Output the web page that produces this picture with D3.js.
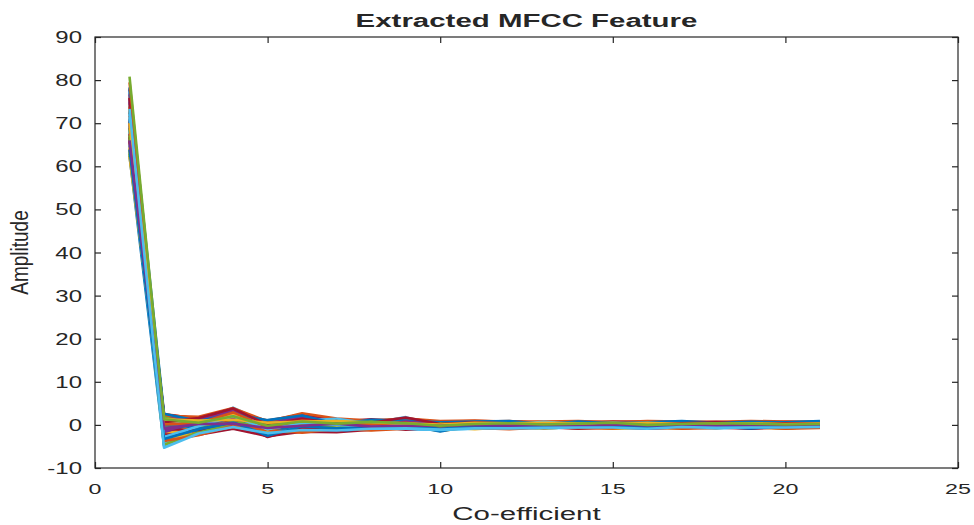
<!DOCTYPE html>
<html>
<head>
<meta charset="utf-8">
<script src="https://cdn.jsdelivr.net/npm/d3@7"></script>
<style>
  html, body { margin: 0; padding: 0; background: #fff; }
  svg { display: block; }
  text { font-family: "Liberation Sans", Arial, Helvetica, sans-serif; fill: #262626; }
</style>
</head>
<body>
<svg id="chart" width="974" height="525"></svg>
<script>
// ---- data ----
const coefficients = [1,2,3,4,5,6,7,8,9,10,11,12,13,14,15,16,17,18,19,20,21];
const xTicks = [0, 5, 10, 15, 20, 25];
const yTicks = [-10, 0, 10, 20, 30, 40, 50, 60, 70, 80, 90];
const titleText = "Extracted MFCC Feature";
const xLabel = "Co-efficient";
const yLabel = "Amplitude";
const colors = ["#0072BD", "#D95319", "#EDB120", "#7E2F8E", "#77AC30", "#4DBEEE", "#A2142F"];

const frames = [
  [62.5, -4.8, -1.5, 0.2, -1.8, -0.6, -1.0, -0.4, -0.9, -1.2, -0.5, -0.3, -0.7, -0.2, -0.6, -0.4, -0.8, -0.3, -0.5, -0.6, -0.2],
  [64.0, 2.2, 1.2, 3.1, 0.6, 1.9, 0.8, 0.5, 1.2, 0.2, 0.6, 0.4, 0.7, 0.3, 0.5, 0.6, 0.2, 0.5, 0.4, 0.3, 0.6],
  [65.5, -2.6, -0.4, 1.5, -0.9, 0.7, -0.3, 0.2, 0.4, -0.6, -0.2, 0.1, -0.4, 0.3, -0.1, 0.2, -0.3, 0.1, -0.2, 0.0, 0.2],
  [66.2, 0.9, 0.3, 2.4, 0.1, 1.4, 0.9, 0.3, 0.7, -0.1, 0.4, 0.2, 0.5, 0.6, 0.1, 0.3, 0.4, 0.2, 0.7, 0.1, 0.3],
  [67.3, -3.9, -1.1, -0.6, -1.5, -0.9, -0.4, -0.8, -0.3, -1.0, -0.6, -0.2, -0.5, -0.7, -0.3, -0.6, -0.2, -0.5, -0.4, -0.8, -0.3],
  [68.1, 1.5, 0.9, 4.0, 0.3, 1.1, 0.5, 0.9, 0.2, -0.3, 0.3, 0.6, 0.1, 0.4, 0.2, 0.5, 0.3, 0.1, 0.4, 0.2, 0.0],
  [69.0, -1.2, 0.2, 1.8, -0.5, 0.9, 0.1, -0.3, 0.5, -0.7, 0.0, 0.3, -0.2, 0.1, 0.4, -0.1, 0.2, -0.3, 0.1, 0.3, -0.2],
  [70.2, 0.4, -0.8, 0.9, -1.2, 0.4, -0.6, 0.1, -0.4, -0.9, -0.3, 0.0, -0.5, -0.1, -0.4, 0.1, -0.2, -0.6, -0.1, -0.3, 0.1],
  [71.1, 2.5, 1.4, 2.9, 1.0, 2.4, 1.2, 0.8, 1.6, 0.5, 0.7, 0.9, 0.4, 0.6, 0.8, 0.5, 0.7, 0.4, 0.6, 0.5, 0.8],
  [72.4, -3.2, -0.9, 0.5, -2.1, -0.2, -0.8, -0.5, -0.2, -1.4, -0.4, -0.6, -0.1, -0.5, -0.3, -0.7, -0.4, -0.2, -0.6, -0.1, -0.4],
  [73.0, 1.1, 0.7, 3.4, 0.5, 1.6, 0.2, 0.6, 0.9, 0.1, 0.5, 0.3, 0.2, 0.5, 0.3, 0.1, 0.5, 0.3, 0.2, 0.6, 0.4],
  [74.1, -0.6, -0.2, 2.2, -0.7, 0.3, 0.6, -0.1, 0.3, -0.4, 0.1, -0.2, 0.3, 0.0, 0.2, -0.3, 0.1, 0.2, -0.1, 0.1, 0.3],
  [75.2, -2.0, -1.8, 0.8, -1.0, -0.4, -0.2, -0.9, 0.1, -0.8, -0.7, -0.4, -0.3, -0.6, -0.5, -0.2, -0.6, -0.4, -0.3, -0.5, -0.2],
  [76.0, 1.9, 0.1, 2.6, 0.8, 2.0, 1.3, 0.4, 1.1, 0.3, 0.2, 0.7, 0.5, 0.2, 0.4, 0.7, 0.3, 0.6, 0.5, 0.4, 0.2],
  [77.1, -4.2, -0.6, 1.2, -1.4, 0.1, -0.5, 0.0, -0.6, -1.1, -0.2, -0.5, 0.0, -0.3, -0.6, -0.2, -0.4, -0.1, -0.6, -0.2, -0.5],
  [78.0, 0.2, 1.0, 3.7, 0.2, 1.7, 0.7, 0.2, 1.4, 0.0, 0.4, 0.1, 0.6, 0.2, 0.1, 0.4, 0.6, 0.3, 0.1, 0.5, 0.7],
  [63.2, -1.6, -0.3, 1.0, -0.8, 0.2, -0.1, -0.6, 0.2, -0.5, -0.1, 0.2, -0.4, 0.1, -0.2, -0.4, 0.0, -0.2, 0.1, -0.3, -0.1],
  [64.8, 0.7, 1.7, 2.7, 0.4, 2.2, 1.0, 1.1, 0.6, 0.4, 0.8, 0.5, 0.3, 0.7, 0.6, 0.3, 0.5, 0.7, 0.4, 0.6, 0.5],
  [66.6, -3.5, -1.3, -0.2, -2.4, -0.8, -1.2, -0.3, -0.7, -0.6, -0.8, -0.4, -0.6, -0.3, -0.8, -0.5, -0.3, -0.7, -0.4, -0.2, -0.6],
  [68.4, 2.0, 0.4, 1.6, 0.9, 1.3, 0.0, 0.4, 1.8, -0.4, 0.3, 0.0, 0.4, 0.5, 0.0, 0.2, 0.3, 0.0, 0.2, 0.4, 0.1],
  [70.5, -0.9, 0.8, 3.0, -0.2, 1.5, 0.4, -0.4, 0.9, -0.2, -0.3, 0.5, 0.2, -0.2, 0.3, 0.1, -0.1, 0.3, 0.0, -0.1, 0.2],
  [72.7, 1.6, -0.5, 1.3, 0.0, 0.6, 0.8, 0.1, -0.1, 0.6, 0.1, -0.1, 0.3, 0.4, -0.2, 0.4, 0.1, -0.2, 0.3, 0.2, -0.1],
  [74.6, -2.9, -1.6, 0.3, -1.7, -1.0, -0.7, -0.2, -0.5, -1.3, -0.5, -0.3, -0.8, -0.4, -0.1, -0.6, -0.5, -0.3, -0.2, -0.4, -0.3],
  [76.3, 0.5, 0.2, 2.3, 0.6, 1.2, 1.1, 0.9, 0.5, 0.8, 0.6, 0.2, 0.0, 0.3, 0.4, 0.2, 0.6, 0.5, 0.8, 0.3, 0.4],
  [77.8, -1.9, 1.1, 1.9, -0.6, 0.5, -0.2, 0.3, 0.7, -0.3, 0.0, 0.6, -0.2, 0.2, 0.1, -0.3, 0.4, 0.0, -0.3, 0.0, 0.1],
  [63.7, 1.4, -1.0, 0.4, -0.4, -0.3, 0.6, -0.7, -0.3, 0.3, -0.4, -0.1, 0.1, -0.5, 0.0, 0.3, -0.5, -0.1, 0.0, -0.4, 0.0],
  [65.1, -4.4, -0.7, 0.7, -1.1, 0.0, -0.9, -0.1, -0.8, -0.7, -0.6, -0.7, -0.2, -0.8, -0.4, -0.1, -0.7, -0.5, -0.7, -0.5, -0.4],
  [67.6, 2.4, 1.5, 3.3, 0.7, 2.5, 0.6, 1.3, 0.8, 0.7, 0.9, 0.8, 0.6, 0.4, 0.7, 0.8, 0.4, 0.6, 0.3, 0.7, 0.6],
  [69.5, -0.3, -1.4, 0.1, -0.1, -0.5, 0.2, -0.5, 0.0, -1.5, -0.1, 0.1, -0.3, -0.2, 0.1, -0.2, -0.1, 0.0, -0.4, -0.1, -0.2],
  [71.7, 0.8, 0.0, 2.5, -0.6, 0.9, 0.7, 0.5, 1.0, 0.0, 0.2, 0.3, 0.1, 0.6, 0.2, 0.0, 0.2, 0.1, 0.5, 0.2, 0.3],
  [73.5, -2.3, -0.1, 1.1, -1.3, -0.1, -0.4, -0.6, -0.4, -0.9, -0.3, -0.2, -0.6, 0.0, -0.3, -0.1, -0.3, -0.4, -0.2, -0.3, 0.0],
  [75.7, 1.7, 1.3, 2.8, 0.4, 1.8, 0.9, 0.2, 1.3, 0.2, 0.5, 0.6, 0.3, 0.1, 0.6, 0.3, 0.4, 0.3, 0.6, 0.4, 0.5],
  [62.9, -0.4, 0.7, 1.4, -0.2, 0.6, -0.6, 0.6, 0.1, -0.1, 0.3, -0.4, 0.5, -0.1, 0.2, 0.0, 0.1, 0.2, -0.2, 0.2, -0.3],
  [77.4, -5.0, -1.9, -0.8, -2.2, -1.1, -1.0, -0.7, -1.0, -1.2, -0.9, -0.6, -0.9, -0.5, -0.7, -0.8, -0.6, -0.8, -0.5, -0.7, -0.5],
  [66.9, -2.2, -2.3, -0.9, -2.6, -1.6, -1.7, -1.1, -0.6, -0.9, -0.8, -0.9, -0.5, -0.9, -0.6, -0.8, -0.7, -0.6, -0.9, -0.5, -0.6],
  [70.9, 0.0, -0.6, 1.7, -1.9, 0.2, -1.4, -0.8, 0.3, -0.5, -0.2, -0.6, -0.3, -0.1, -0.7, -0.4, -0.2, -0.5, -0.3, -0.6, -0.2],
  [73.8, 2.1, 1.9, 3.9, 0.8, 2.7, 1.5, 1.0, 1.5, 0.9, 1.0, 0.7, 0.8, 0.9, 0.6, 0.9, 0.8, 0.7, 0.9, 0.8, 0.7],
  [64.4, -3.0, -2.0, -0.4, -1.6, -1.3, -0.3, -1.2, -0.7, -0.4, -1.0, -0.5, -0.8, -0.4, -0.9, -0.6, -0.8, -0.3, -0.6, -0.8, -0.4],
  [76.7, 1.0, 0.6, 3.5, -0.1, 2.1, 0.4, 0.8, 0.4, 0.3, 0.1, 0.5, 0.4, 0.0, 0.3, 0.5, 0.1, 0.4, 0.2, 0.3, 0.4],
  [68.8, -4.6, -1.7, 0.0, -2.0, -1.4, -0.5, -1.0, -0.2, -0.8, -0.3, -0.8, -0.4, -0.6, -0.2, -0.5, -0.6, -0.4, -0.3, -0.5, -0.4],
  [72.1, 1.2, 0.3, 2.1, 0.3, 1.0, 1.4, 0.3, 0.6, 0.5, 0.4, 0.1, 0.7, 0.2, 0.5, 0.2, 0.7, 0.2, 0.4, 0.5, 0.2],
  [65.8, -1.0, -1.2, 1.1, -2.8, -0.7, -1.5, -0.2, -1.1, -0.5, -0.6, -0.2, -0.7, -0.3, -0.5, -0.7, -0.4, -0.6, -0.2, -0.4, -0.6],
  [78.3, 2.6, 0.9, 2.5, 1.1, 2.2, 0.2, 1.2, 1.0, 0.6, 0.8, 0.9, 0.2, 0.8, 0.4, 0.6, 0.9, 0.5, 0.7, 0.6, 0.9],
  [69.9, -3.7, -2.4, -0.2, -1.2, -1.8, -0.9, -1.3, -0.9, -0.3, -0.7, -1.0, -0.6, -0.7, -0.8, -0.3, -0.9, -0.7, -0.5, -0.9, -0.7],
  [62.2, 0.3, 0.1, 2.6, -1.0, 1.3, -0.2, 0.0, 0.6, -0.9, 0.0, -0.1, 0.2, 0.2, -0.3, 0.1, 0.0, -0.1, 0.3, 0.0, -0.1],
  [74.9, -1.4, 0.6, 1.4, 0.2, 0.0, 0.9, -0.5, 0.8, 0.1, 0.3, 0.2, -0.1, 0.4, 0.3, 0.0, 0.3, 0.2, -0.1, 0.3, 0.2],
  [67.1, 1.8, -0.2, 0.6, -0.3, 0.3, -0.7, 0.7, -0.5, 0.4, -0.2, 0.4, 0.0, 0.1, 0.0, 0.4, -0.2, 0.1, 0.0, 0.2, 0.0],
  [71.4, -2.8, -0.3, 2.0, -1.0, 0.5, 0.0, -0.4, 0.0, -1.0, -0.1, 0.0, -0.2, 0.2, 0.1, -0.2, 0.2, -0.1, 0.1, -0.2, 0.1],
  [75.9, 0.6, 1.6, 3.8, 0.0, 1.4, 0.3, 0.5, 1.7, 0.2, 0.6, 0.3, 0.4, 0.3, 0.4, 0.2, 0.4, 0.6, 0.2, 0.4, 0.3],
  [63.9, -3.3, -1.0, 0.6, -2.5, -0.3, -0.8, -0.6, -0.3, -0.6, -0.4, -0.3, -0.4, -0.5, -0.3, -0.4, -0.3, -0.4, -0.8, -0.3, -0.3],
  [79.5, 0.1, 0.4, 2.9, -0.5, 1.0, 0.5, 0.1, 0.5, -0.3, 0.2, 0.1, 0.3, 0.1, 0.2, 0.3, 0.1, 0.2, 0.3, 0.1, 0.2],
  [70.0, 1.3, 1.0, 1.2, 0.5, 0.8, 0.9, 0.6, 0.3, 0.1, 0.5, 0.4, 0.5, 0.4, 0.3, 0.5, 0.2, 0.3, 0.4, 0.2, 0.3],
  [66.0, -0.8, 0.2, 0.3, -0.7, -0.2, 0.3, -0.4, -0.2, -0.2, 0.0, -0.2, 0.0, -0.3, 0.1, -0.1, 0.0, -0.2, 0.1, -0.1, -0.1],
  [80.8, 1.3, 0.5, 2.0, -0.2, 0.8, 0.3, 0.7, 0.4, -0.2, 0.2, 0.4, 0.1, 0.3, 0.5, 0.0, 0.2, 0.4, 0.3, 0.1, 0.2],
  [73.3, -5.3, -2.0, -0.5, -1.9, -1.2, -1.3, -0.9, -0.8, -1.1, -0.8, -0.8, -0.7, -0.6, -0.6, -0.9, -0.5, -0.7, -0.6, -0.6, -0.5]
];

// ---- layout ----
const margin = { left: 95, right: 16, top: 37, bottom: 57 };
const W = 974, H = 525;
const svg = d3.select("#chart");
const x = d3.scaleLinear().domain([0, 25]).range([margin.left, W - margin.right]);
const y = d3.scaleLinear().domain([-10, 90]).range([H - margin.bottom, margin.top]);
const axisColor = "#262626";
const sx = 1.5; // horizontal text stretch of the reference

// lines
const line = d3.line().x((d, i) => x(coefficients[i])).y(d => y(d));
svg.append("clipPath").attr("id", "clip").append("rect")
  .attr("x", x(0)).attr("y", y(90)).attr("width", x(25) - x(0)).attr("height", y(-10) - y(90));
svg.append("g").attr("clip-path", "url(#clip)")
  .selectAll("path").data(frames).join("path")
  .attr("d", d => line(d))
  .attr("fill", "none")
  .attr("stroke", (d, i) => colors[i % colors.length])
  .attr("stroke-width", 2.6)
  .attr("stroke-linejoin", "round");

// box
svg.append("rect")
  .attr("x", x(0)).attr("y", y(90))
  .attr("width", x(25) - x(0)).attr("height", y(-10) - y(90))
  .attr("fill", "none").attr("stroke", axisColor).attr("stroke-width", 1.2);

// axes with inward ticks, mirrored
const tickLen = 6;
const gxB = svg.append("g").attr("transform", `translate(0,${y(-10)})`)
  .call(d3.axisBottom(x).tickValues(xTicks).tickSizeInner(-tickLen).tickSizeOuter(0).tickFormat(""));
const gxT = svg.append("g").attr("transform", `translate(0,${y(90)})`)
  .call(d3.axisTop(x).tickValues(xTicks).tickSizeInner(-tickLen).tickSizeOuter(0).tickFormat(""));
const gyL = svg.append("g").attr("transform", `translate(${x(0)},0)`)
  .call(d3.axisLeft(y).tickValues(yTicks).tickSizeInner(-tickLen).tickSizeOuter(0).tickFormat(""));
const gyR = svg.append("g").attr("transform", `translate(${x(25)},0)`)
  .call(d3.axisRight(y).tickValues(yTicks).tickSizeInner(-tickLen).tickSizeOuter(0).tickFormat(""));
[gxB, gxT, gyL, gyR].forEach(g => {
  g.select(".domain").remove();
  g.selectAll("line").attr("stroke", axisColor).attr("stroke-width", 1.2);
});

// text helper (stretched horizontally like the reference)
function stretchedText(px, py, str, opts) {
  return svg.append("text")
    .attr("transform", `translate(${px},${py}) scale(${opts.sx || sx},1)`)
    .attr("text-anchor", opts.anchor || "middle")
    .attr("font-size", opts.size || 16)
    .attr("font-weight", opts.weight || "normal")
    .text(str);
}
xTicks.forEach(v => stretchedText(x(v), 494, String(v), { size: 15.5 }));
yTicks.forEach(v => stretchedText(x(0) - 13, y(v) + 6, String(v), { size: 16, anchor: "end" }));

// title and axis labels
stretchedText((x(0) + x(25)) / 2, 27, titleText, { size: 19, weight: "bold", sx: 1.55 });
stretchedText((x(0) + x(25)) / 2, 520, xLabel, { size: 19, sx: 1.55 });
svg.append("text")
  .attr("transform", `translate(28,${(y(90) + y(-10)) / 2}) rotate(-90) scale(1,1.25)`)
  .attr("text-anchor", "middle")
  .attr("font-size", 19)
  .text(yLabel);
</script>
</body>
</html>
